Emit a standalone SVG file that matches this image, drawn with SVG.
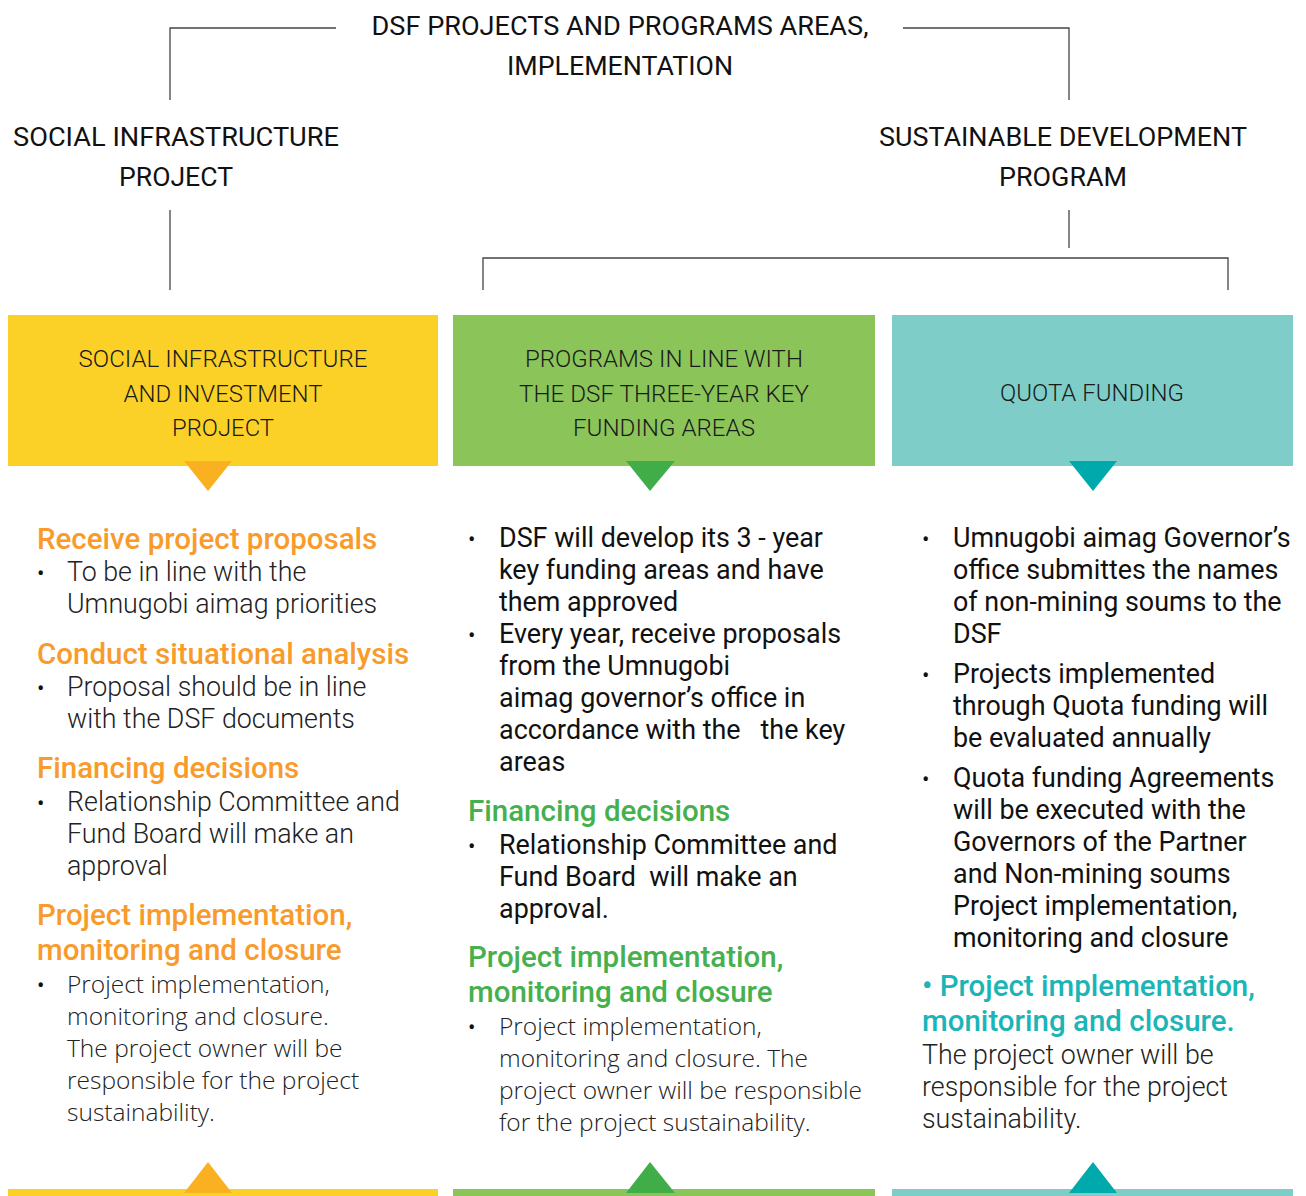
<svg xmlns="http://www.w3.org/2000/svg" width="1306" height="1196" viewBox="0 0 1306 1196">
<style>
.top{font-family:Roboto,"Liberation Sans",sans-serif;font-size:26px;fill:#111;text-anchor:middle}
.hd{font-family:Roboto,"Liberation Sans",sans-serif;font-size:23px;font-weight:300;fill:#1a1a1a;text-anchor:middle}
.h{font-family:Roboto,"Liberation Sans",sans-serif;font-size:29.5px;font-weight:500}
.o{fill:#F89B2B}.g{fill:#46B04E}.t{fill:#1BB5B7}
.bl{font-family:Roboto,"Liberation Sans",sans-serif;font-size:26.8px;font-weight:300;fill:#222}
.br{font-family:Roboto,"Liberation Sans",sans-serif;font-size:26.9px;font-weight:400;fill:#111}
.bs{font-family:"Open Sans","Liberation Sans",sans-serif;font-size:24.5px;font-weight:300;fill:#222}
.bu{font-family:Roboto,"Liberation Sans",sans-serif;font-size:22px;fill:#111}
.ln{fill:none;stroke:#444;stroke-width:1.3}
</style>
<rect width="1306" height="1196" fill="#fff"/>
<g id="connectors">
<path class="ln" d="M336 28H170V100"/>
<path class="ln" d="M903 28H1069V100"/>
<path class="ln" d="M170 210V290"/>
<path class="ln" d="M1069 210V248"/>
<path class="ln" d="M483 290V258H1228V290"/>
</g>
<g id="title">
<text class="top" x="620" y="35" textLength="497" lengthAdjust="spacingAndGlyphs">DSF PROJECTS AND PROGRAMS AREAS,</text>
<text class="top" x="620" y="75" textLength="226" lengthAdjust="spacingAndGlyphs">IMPLEMENTATION</text>
</g>
<g id="social-infrastructure-project">
<text class="top" x="176" y="146" textLength="326" lengthAdjust="spacingAndGlyphs">SOCIAL INFRASTRUCTURE</text>
<text class="top" x="176" y="186" textLength="114" lengthAdjust="spacingAndGlyphs">PROJECT</text>
</g>
<g id="sustainable-development-program">
<text class="top" x="1063" y="146" textLength="368" lengthAdjust="spacingAndGlyphs">SUSTAINABLE DEVELOPMENT</text>
<text class="top" x="1063" y="186" textLength="128" lengthAdjust="spacingAndGlyphs">PROGRAM</text>
</g>
<g id="col1">
<rect x="8" y="315" width="430" height="151" fill="#FBD128"/>
<polygon points="184,461 232,461 208,491" fill="#F9B122"/>
<text class="hd" x="223" y="367" textLength="289" lengthAdjust="spacingAndGlyphs">SOCIAL INFRASTRUCTURE</text>
<text class="hd" x="223" y="402" textLength="199" lengthAdjust="spacingAndGlyphs">AND INVESTMENT</text>
<text class="hd" x="223" y="436" textLength="102" lengthAdjust="spacingAndGlyphs">PROJECT</text>
<text class="h o" x="37" y="549">Receive project proposals</text>
<text class="bu" x="37" y="581">•</text>
<text class="bl" x="67" y="581">To be in line with the</text>
<text class="bl" x="67" y="613">Umnugobi aimag priorities</text>
<text class="h o" x="37" y="664">Conduct situational analysis</text>
<text class="bu" x="37" y="696">•</text>
<text class="bl" x="67" y="696">Proposal should be in line</text>
<text class="bl" x="67" y="728">with the DSF documents</text>
<text class="h o" x="37" y="778">Financing decisions</text>
<text class="bu" x="37" y="811">•</text>
<text class="bl" x="67" y="811">Relationship Committee and</text>
<text class="bl" x="67" y="843">Fund Board will make an</text>
<text class="bl" x="67" y="875">approval</text>
<text class="h o" x="37" y="925">Project implementation,</text>
<text class="h o" x="37" y="960">monitoring and closure</text>
<text class="bu" x="37" y="993">•</text>
<text class="bs" x="67" y="993">Project implementation,</text>
<text class="bs" x="67" y="1025">monitoring and closure.</text>
<text class="bs" x="67" y="1057">The project owner will be</text>
<text class="bs" x="67" y="1089">responsible for the project</text>
<text class="bs" x="67" y="1121">sustainability.</text>
<rect x="8" y="1189" width="430" height="7" fill="#FBD128"/>
<polygon points="184,1193 232,1193 208,1162" fill="#F9B122"/>
</g>
<g id="col2">
<rect x="453" y="315" width="422" height="151" fill="#8BC55A"/>
<polygon points="626,461 675,461 650,491" fill="#40AD49"/>
<text class="hd" x="664" y="367" textLength="278" lengthAdjust="spacingAndGlyphs">PROGRAMS IN LINE WITH</text>
<text class="hd" x="664" y="402" textLength="290" lengthAdjust="spacingAndGlyphs">THE DSF THREE-YEAR KEY</text>
<text class="hd" x="664" y="436" textLength="182" lengthAdjust="spacingAndGlyphs">FUNDING AREAS</text>
<text class="bu" x="468" y="547">•</text>
<text class="br" x="499" y="547">DSF will develop its 3 - year</text>
<text class="br" x="499" y="579">key funding areas and have</text>
<text class="br" x="499" y="611">them approved</text>
<text class="bu" x="468" y="643">•</text>
<text class="br" x="499" y="643">Every year, receive proposals</text>
<text class="br" x="499" y="675">from the Umnugobi</text>
<text class="br" x="499" y="707">aimag governor’s office in</text>
<text class="br" x="499" y="739" xml:space="preserve">accordance with the   the key</text>
<text class="br" x="499" y="771">areas</text>
<text class="h g" x="468" y="821">Financing decisions</text>
<text class="bu" x="468" y="854">•</text>
<text class="br" x="499" y="854">Relationship Committee and</text>
<text class="br" x="499" y="886" xml:space="preserve">Fund Board  will make an</text>
<text class="br" x="499" y="918">approval.</text>
<text class="h g" x="468" y="967">Project implementation,</text>
<text class="h g" x="468" y="1002">monitoring and closure</text>
<text class="bu" x="468" y="1035">•</text>
<text class="bs" x="499" y="1035">Project implementation,</text>
<text class="bs" x="499" y="1067">monitoring and closure. The</text>
<text class="bs" x="499" y="1099">project owner will be responsible</text>
<text class="bs" x="499" y="1131">for the project sustainability.</text>
<rect x="453" y="1189" width="422" height="7" fill="#8BC55A"/>
<polygon points="626,1193 675,1193 650,1162" fill="#40AD49"/>
</g>
<g id="col3">
<rect x="892" y="315" width="401" height="151" fill="#7ECDC8"/>
<polygon points="1069,461 1117,461 1093,491" fill="#00A9AC"/>
<text class="hd" x="1092" y="401" textLength="184" lengthAdjust="spacingAndGlyphs">QUOTA FUNDING</text>
<text class="bu" x="922" y="547">•</text>
<text class="br" x="953" y="547">Umnugobi aimag Governor’s</text>
<text class="br" x="953" y="579">office submittes the names</text>
<text class="br" x="953" y="611">of non-mining soums to the</text>
<text class="br" x="953" y="643">DSF</text>
<text class="bu" x="922" y="683">•</text>
<text class="br" x="953" y="683">Projects implemented</text>
<text class="br" x="953" y="715">through Quota funding will</text>
<text class="br" x="953" y="747">be evaluated annually</text>
<text class="bu" x="922" y="787">•</text>
<text class="br" x="953" y="787">Quota funding Agreements</text>
<text class="br" x="953" y="819">will be executed with the</text>
<text class="br" x="953" y="851">Governors of the Partner</text>
<text class="br" x="953" y="883">and Non-mining soums</text>
<text class="br" x="953" y="915">Project implementation,</text>
<text class="br" x="953" y="947">monitoring and closure</text>
<text class="h t" x="922" y="996">• Project implementation,</text>
<text class="h t" x="922" y="1031">monitoring and closure.</text>
<text class="bl" x="922" y="1064">The project owner will be</text>
<text class="bl" x="922" y="1096">responsible for the project</text>
<text class="bl" x="922" y="1128">sustainability.</text>
<rect x="892" y="1189" width="401" height="7" fill="#7ECDC8"/>
<polygon points="1069,1193 1117,1193 1093,1162" fill="#00A9AC"/>
</g>
</svg>
